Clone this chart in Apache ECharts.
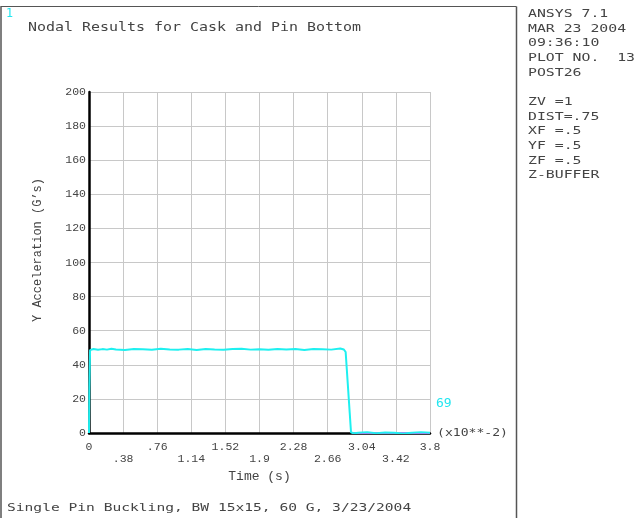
<!DOCTYPE html>
<html>
<head>
<meta charset="utf-8">
<script src="https://cdn.jsdelivr.net/npm/echarts@6/dist/echarts.min.js"></script>
<style>html,body{margin:0;padding:0;background:#fff;}#c{width:639px;height:518px;}</style>
</head>
<body>
<div id="c"></div>
<script>
// Time in units of 1e-2 s
var timeVals = [0, 0.004, 0.012, 0.05, 0.1, 0.15, 0.2, 0.25, 0.3, 0.4, 0.5, 0.6, 0.7, 0.8, 0.9, 1.0, 1.1, 1.2, 1.3, 1.4, 1.5, 1.6, 1.7, 1.8, 1.9, 2.0, 2.1, 2.2, 2.3, 2.4, 2.5, 2.6, 2.7, 2.8, 2.84, 2.86, 2.92, 2.96, 3.0, 3.1, 3.2, 3.3, 3.4, 3.5, 3.6, 3.7, 3.8];
var accelVals = [0, 26, 48.6, 49.3, 48.8, 49.2, 48.9, 49.4, 49.0, 48.7, 49.3, 49.1, 48.8, 49.4, 49.0, 48.9, 49.2, 48.7, 49.3, 49.0, 48.8, 49.2, 49.4, 48.9, 49.1, 48.8, 49.3, 49.0, 49.2, 48.7, 49.3, 49.1, 48.9, 49.6, 49.0, 47.5, 0.3, -0.2, 0.2, 0.4, -0.1, 0.3, 0.1, -0.3, 0.2, 0.4, 0.1];
var magTime = [2.93, 3.0, 3.1, 3.2, 3.3, 3.4, 3.5, 3.6, 3.7, 3.8];
var magVals = [0, 0, 0, 0, 0, 0, 0, 0, 0, 0];
var xTickLabels = ['0', '.38', '.76', '1.14', '1.52', '1.9', '2.28', '2.66', '3.04', '3.42', '3.8'];
var yTickLabels = ['0', '20', '40', '60', '80', '100', '120', '140', '160', '180', '200'];
var infoLines1 = ['ANSYS 7.1', 'MAR 23 2004', '09:36:10', 'PLOT NO.  13', 'POST26'];
var infoLines2 = ['ZV =1', 'DIST=.75', 'XF =.5', 'YF =.5', 'ZF =.5', 'Z-BUFFER'];

function zip(a, b) { return a.map(function (v, i) { return [v, b[i]]; }); }

var monoStroke = '"DejaVu Sans Mono", monospace';
var mono = '"Liberation Mono", monospace';
function stext(x, y, t, size, sx, color) {
  return { type: 'text', x: x, y: y, scaleX: sx, silent: true,
    style: { text: t, font: size + 'px ' + monoStroke, fill: color || '#333', textAlign: 'left', textVerticalAlign: 'middle' } };
}

var graphics = [
  { type: 'line', shape: { x1: 0.5, y1: 6.5, x2: 516.5, y2: 6.5 }, style: { stroke: '#555', lineWidth: 1 } },
  { type: 'line', shape: { x1: 1, y1: 6.5, x2: 1, y2: 518 }, style: { stroke: '#555', lineWidth: 1.5 } },
  { type: 'line', shape: { x1: 516.5, y1: 6.5, x2: 516.5, y2: 518 }, style: { stroke: '#555', lineWidth: 1.5 } },
  stext(6, 14, '1', 13, 0.9, '#22e6f0'),
  stext(28, 28, 'Nodal Results for Cask and Pin Bottom', 11.5, 1.3, '#444'),
  stext(7, 508, 'Single Pin Buckling, BW 15x15, 60 G, 3/23/2004', 10.5, 1.39, '#444'),
  stext(436, 404, '69', 13, 1.0, '#22e6f0'),
  stext(437, 433, '(x10**-2)', 10, 1.31, '#444'),
  { type: 'text', x: 38, y: 250, rotation: Math.PI / 2, silent: true,
    style: { text: 'Y Acceleration (G\u2019s)', font: '12px ' + mono, fill: '#444', textAlign: 'center', textVerticalAlign: 'middle' } }
];
infoLines1.forEach(function (t, i) { graphics.push(stext(528, 14.5 + i * 14.6, t, 10.5, 1.41, '#444')); });
infoLines2.forEach(function (t, i) { graphics.push(stext(528, 102.5 + i * 14.6, t, 10.5, 1.41, '#444')); });

var chart = echarts.init(document.getElementById('c'), null, { renderer: 'canvas' });
chart.setOption({
  animation: false,
  backgroundColor: '#fff',
  grid: { left: 89, top: 92, width: 341, height: 341 },
  xAxis: {
    type: 'value', min: 0, max: 3.8, interval: 0.38,
    name: 'Time (s)', nameLocation: 'middle', nameGap: 30,
    nameTextStyle: { fontFamily: mono, fontSize: 13, color: '#444' },
    axisLine: { show: true, onZero: false, lineStyle: { color: '#000', width: 2.5 } },
    axisTick: { show: false },
    splitLine: { show: true, lineStyle: { color: '#c8c8c8', width: 1 } },
    axisLabel: {
      margin: 8, fontFamily: mono, fontSize: 11.5, color: '#444', lineHeight: 12,
      showMinLabel: true, showMaxLabel: true,
      formatter: function (v) {
        var i = Math.round(v / 0.38);
        var s = xTickLabels[i] || '';
        return i % 2 === 1 ? '\n' + s : s + '\n';
      }
    }
  },
  yAxis: {
    type: 'value', min: 0, max: 200, interval: 20,
    axisLine: { show: true, lineStyle: { color: '#000', width: 2.5 } },
    axisTick: { show: false },
    splitLine: { show: true, lineStyle: { color: '#c8c8c8', width: 1 } },
    axisLabel: {
      margin: 3, fontFamily: mono, fontSize: 11.5, color: '#444',
      formatter: function (v) { return yTickLabels[Math.round(v / 20)]; }
    }
  },
  series: [
    { type: 'line', data: zip(magTime, magVals), showSymbol: false, z: 3,
      lineStyle: { color: '#ff33ff', width: 2 } },
    { type: 'line', data: zip(timeVals, accelVals), showSymbol: false, z: 4,
      lineStyle: { color: '#1ef0f0', width: 2 } }
  ],
  graphic: graphics
});
</script>
</body>
</html>
